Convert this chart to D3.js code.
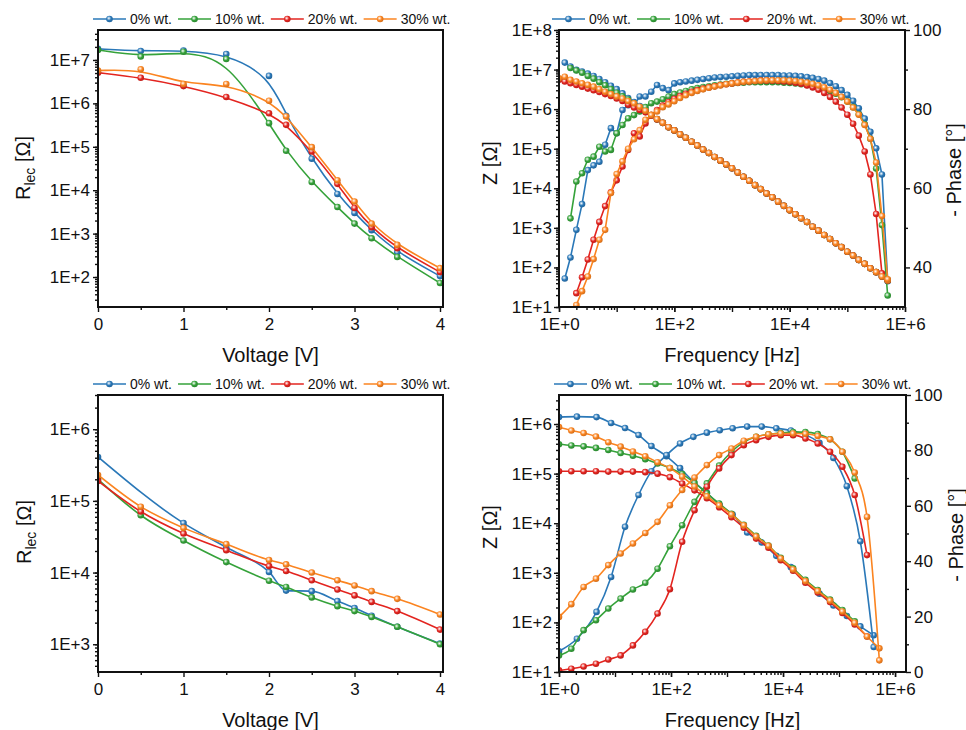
<!DOCTYPE html>
<html>
<head>
<meta charset="UTF-8">
<title>Rlec and Bode plots</title>
<script src="https://cdn.jsdelivr.net/npm/d3@7"></script>
<style>
  body { margin: 0; background: #fff; }
  svg text { font-family: "Liberation Sans", Arial, sans-serif; fill: #111; }
</style>
</head>
<body>
<script>
var names = ["0% wt.", "10% wt.", "20% wt.", "30% wt."];
var colors = ["#2a78b8", "#35a23a", "#e3241f", "#fb8420"];

// left panels: R_lec vs voltage
var voltage = [0, 0.5, 1, 1.5, 2, 2.2, 2.5, 2.8, 3, 3.2, 3.5, 4];
var rlecTop0 = [1.8e7, 1.6e7, 1.65e7, 1.37e7, 4.3e6, 5.2e5, 5.3e4, 8.2e3, 3.0e3, 1.2e3, 3.7e2, 1.05e2];
var rlecTop10 = [1.7e7, 1.2e7, 1.55e7, 1.05e7, 3.5e5, 8.1e4, 1.55e4, 4.1e3, 1.7e3, 7.8e2, 2.9e2, 73];
var rlecTop20 = [5.1e6, 3.9e6, 2.5e6, 1.4e6, 5.9e5, 3.2e5, 7.8e4, 1.4e4, 3.9e3, 1.4e3, 4.6e2, 1.3e2];
var rlecTop30 = [5.7e6, 6.1e6, 2.8e6, 2.8e6, 1.15e6, 5.0e5, 9.8e4, 1.7e4, 5.5e3, 1.7e3, 5.5e2, 1.6e2];

var rlecBot0 = [4.1e5, null, 4.9e4, 2.25e4, 1.02e4, 5.6e3, 5.5e3, 4.0e3, 3.2e3, 2.5e3, 1.75e3, 1.02e3];
var rlecBot10 = [2.0e5, 6.3e4, 2.8e4, 1.4e4, 7.7e3, 6.3e3, 4.5e3, 3.4e3, 2.9e3, 2.4e3, 1.75e3, 1.0e3];
var rlecBot20 = [1.9e5, 7.1e4, 3.5e4, 2.05e4, 1.23e4, 1.05e4, 7.8e3, 5.8e3, 4.8e3, 3.9e3, 2.9e3, 1.6e3];
var rlecBot30 = [2.3e5, 8.3e4, 4.2e4, 2.5e4, 1.5e4, 1.3e4, 1.0e4, 7.8e3, 6.6e3, 5.5e3, 4.3e3, 2.6e3];

// top right: Bode plot, 10 points per decade
var freqTop = [1, 1.26, 1.58, 2.0, 2.51, 3.16, 3.98, 5.01, 6.31, 7.94,
  10, 12.6, 15.8, 20.0, 25.1, 31.6, 39.8, 50.1, 63.1, 79.4,
  100, 126, 158, 200, 251, 316, 398, 501, 631, 794,
  1000, 1259, 1585, 1995, 2512, 3162, 3981, 5012, 6310, 7943,
  1e4, 1.26e4, 1.58e4, 2.0e4, 2.51e4, 3.16e4, 3.98e4, 5.01e4, 6.31e4, 7.94e4,
  1e5, 1.26e5, 1.58e5, 2.0e5, 2.51e5, 3.16e5, 3.98e5, 5.01e5];
// low-frequency part of |Z| (first 18 frequencies)
var zTop0 = [null, 1.5e7, 1.2e7, 9.8e6, 8.9e6, 7.9e6, 6.9e6, 5.8e6, 4.8e6, 3.9e6, 3.2e6, 2.5e6, 1.9e6, 1.5e6, 1.2e6, 9.3e5, 7.1e5, 5.6e5];
var zTop10 = [null, null, 1.1e7, 9.5e6, 8.3e6, 6.9e6, 5.9e6, 4.8e6, 4.0e6, 3.2e6, 2.6e6, 2.1e6, 1.75e6, 1.4e6, 1.1e6, 8.9e5, 7.0e5, 5.5e5];
var zTop20 = [5.5e6, 5.0e6, 4.5e6, 4.1e6, 3.7e6, 3.3e6, 3.0e6, 2.7e6, 2.4e6, 2.15e6, 1.85e6, 1.6e6, 1.3e6, 1.1e6, 9.5e5, 8.3e5, 6.8e5, 5.5e5];
var zTop30 = [6.0e6, 6.6e6, 5.5e6, 5.0e6, 4.5e6, 4.1e6, 3.7e6, 3.2e6, 2.75e6, 2.4e6, 2.1e6, 1.85e6, 1.6e6, 1.4e6, 1.15e6, 9.1e5, 7.2e5, 5.6e5];
// above ~60 Hz the four |Z| curves lie on one capacitive line
var zTopTail = [4.5e5, 3.5e5, 2.9e5, 2.3e5, 1.9e5, 1.5e5, 1.2e5, 9.5e4, 7.8e4, 6.2e4,
  5.0e4, 4.0e4, 3.2e4, 2.5e4, 1.95e4, 1.55e4, 1.2e4, 9.5e3, 7.4e3, 5.9e3,
  4.6e3, 3.6e3, 2.8e3, 2.2e3, 1.75e3, 1.4e3, 1.07e3, 850, 660, 525,
  410, 325, 250, 200, 155, 123, 95, 76, 59, 47];
var phTop0 = [null, 37.2, 42.5, 49.5, 56, 64.6, 65.8, 66.7, 71, 75.2, 73.9, 79.8, 81, 81, 83.2, 83.2, 84.4, 86.1, 85.3, 84.8,
  86.5, 86.8, 87.0, 87.2, 87.4, 87.6, 87.8, 88.0, 88.1, 88.2, 88.3, 88.4, 88.5, 88.6, 88.6, 88.6, 88.6, 88.6, 88.6, 88.5,
  88.5, 88.4, 88.3, 88.1, 87.9, 87.6, 87.2, 86.6, 85.8, 84.8, 83.6, 82.1, 80.2, 77.6, 74.3, 70.1, 63.5, 36.5];
var phTop10 = [null, null, 52.4, 61.7, 63.8, 67.2, 68.0, 70.5, 69.3, 69.7, 73.9, 76.0, 77.7, 78.5, 79.4, 80.5, 81.5, 81.9, 82.5, 83.2,
  83.8, 84.2, 84.6, 85.0, 85.3, 85.6, 85.8, 86.0, 86.2, 86.4, 86.5, 86.6, 86.7, 86.8, 86.8, 86.8, 86.8, 86.8, 86.8, 86.7,
  86.6, 86.5, 86.3, 86.1, 85.8, 85.5, 85.1, 84.6, 83.9, 83.0, 81.9, 80.5, 78.7, 76.2, 72.5, 65.0, 50.7, 32.9];
var phTop20 = [null, null, null, 33.5, 37.5, 42, 47, 51.5, 55.5, 59, 62, 65.5, 69.7, 73.9, 73.1, 76.4, 78.5, 79.8, 80.9, 81.8,
  82.6, 83.3, 83.9, 84.4, 84.8, 85.2, 85.5, 85.8, 86.1, 86.3, 86.5, 86.7, 86.9, 87.0, 87.1, 87.2, 87.2, 87.2, 87.1, 87.0,
  86.9, 86.7, 86.4, 86.0, 85.5, 84.9, 84.1, 83.1, 81.9, 80.4, 78.6, 76.3, 73.3, 69.3, 63.5, 53.5, 38.5, null];
var phTop30 = [null, null, 24, 30.5, 34, 37.7, 42.1, 47, 49.5, 58.8, 63.6, 66.8, 70, 72.4, 74.7, 77.3, 78.5, 79.4, 80.5, 81.2,
  82, 82.8, 83.5, 84.1, 84.6, 85.0, 85.4, 85.7, 86.0, 86.3, 86.5, 86.7, 86.9, 87.0, 87.1, 87.2, 87.3, 87.3, 87.3, 87.3,
  87.2, 87.1, 86.9, 86.7, 86.4, 86.0, 85.5, 84.9, 84.1, 83.1, 81.9, 80.4, 78.6, 76.0, 72.5, 66.5, 53, 37];

// bottom right: Bode plot, blue series on its own frequency list
var freqBot0 = [1, 2.09, 4.68, 8.51, 15.1, 26.3, 44.7, 83.2, 145, 251, 437, 741, 1259, 2291, 4169, 7586,
  13804, 25119, 44668, 79433, 138038, 239883, 416869];
var freqBot = [1, 1.66, 2.75, 4.57, 7.59, 12.6, 20.9, 34.7, 57.5, 95.5, 158, 263, 437, 724, 1202, 1995,
  3311, 5495, 9120, 15136, 25119, 41687, 69183, 114815, 190546, 316228, 524807];
var zBot0 = [1.38e6, 1.41e6, 1.38e6, 1.05e6, 8.3e5, 6.0e5, 3.6e5, 2.24e5, 1.29e5, 6.9e4, 4.1e4, 2.3e4, 1.5e4, 6.5e3, 4.1e3, 2.2e3,
  1.3e3, 660, 380, 220, 135, 83, 55];
var phBot0 = [7.5, 12.0, 21.7, 34.3, 52.4, 63.9, 72.5, 78.3, 82.5, 84.9, 86.4, 87.3, 88.0, 88.6, 88.6, 88.0,
  87.2, 85.7, 82.7, 77.3, 67.1, 47.2, 9.0];
var zBot10 = [3.9e5, 3.7e5, 3.55e5, 3.3e5, 3.0e5, 2.6e5, 2.3e5, 1.95e5, 1.6e5, 1.3e5, 9.8e4, 6.5e4, 4.0e4, 2.5e4, 1.55e4, 9.3e3,
  5.6e3, 3.55e3, 2.0e3, 1.23e3, 720, 450, 290, 178, 105];
var phBot10 = [6.0, 8.4, 15.1, 18.7, 22.9, 26.5, 29.8, 32.2, 37.3, 45.4, 53.0, 61.4, 68.1, 74.5, 79.5, 83.0,
  84.9, 85.8, 86.3, 86.6, 86.6, 85.9, 84.0, 79.5, 69.9];
var zBot20 = [1.12e5, 1.12e5, 1.12e5, 1.12e5, 1.1e5, 1.1e5, 1.1e5, 1.07e5, 1.0e5, 8.5e4, 6.3e4, 4.6e4, 3.2e4, 2.1e4, 1.32e4, 8.1e3,
  4.9e3, 3.2e3, 1.8e3, 1.1e3, 630, 400, 257, 155, 91, 52];
var phBot20 = [0.6, 1.2, 2.0, 3.0, 4.5, 6.0, 9.6, 14.5, 21.1, 29.9, 47.0, 58.4, 66.9, 73.5, 78.3, 81.9,
  83.7, 84.9, 85.5, 85.5, 84.3, 82.5, 79.5, 74.1, 63.9, 42.2];
var zBot30 = [8.7e5, 7.4e5, 6.6e5, 5.6e5, 4.3e5, 3.5e5, 2.8e5, 2.24e5, 1.7e5, 1.29e5, 8.7e4, 5.5e4, 3.5e4, 2.3e4, 1.5e4, 9.1e3,
  5.4e3, 3.5e3, 1.95e3, 1.17e3, 680, 430, 275, 166, 98, 52, 30];
var phBot30 = [19.9, 24.5, 30.7, 33.7, 38.6, 42.8, 46.4, 50.2, 54.2, 60.2, 65.7, 70.2, 74.7, 78.3, 80.7, 83.5,
  84.9, 85.8, 86.1, 86.1, 86.0, 85.2, 84.0, 79.5, 72.0, 56.0, 4.2];

// tick values
var voltTicks = [0, 1, 2, 3, 4];
var rlecTopTicks = [1e2, 1e3, 1e4, 1e5, 1e6, 1e7];
var rlecBotTicks = [1e3, 1e4, 1e5, 1e6];
var freqTicks = [1, 1e2, 1e4, 1e6];
var zTopTicks = [1e1, 1e2, 1e3, 1e4, 1e5, 1e6, 1e7, 1e8];
var zBotTicks = [1e1, 1e2, 1e3, 1e4, 1e5, 1e6];
var phTopTicks = [40, 60, 80, 100];
var phBotTicks = [0, 20, 40, 60, 80, 100];

var svg = d3.select("body").append("svg").attr("width", 966).attr("height", 730);
var defs = svg.append("defs");

colors.forEach(function(c, i) {
    var gr = defs.append("radialGradient").attr("id", "ball" + i)
            .attr("cx", "40%").attr("cy", "38%").attr("r", "62%");
    gr.append("stop").attr("offset", "0%").attr("stop-color", "#fff");
    gr.append("stop").attr("offset", "55%").attr("stop-color", c);
    gr.append("stop").attr("offset", "100%").attr("stop-color", d3.color(c).darker(0.5));
});

var fmtE = function(d) { return "1E+" + Math.round(Math.log10(d)); };

function logMinors(lo, hi) {
    var out = [];
    for (var e = Math.floor(Math.log10(lo)); e <= Math.ceil(Math.log10(hi)); e++) {
        for (var m = 1; m < 10; m++) {
            var v = m * Math.pow(10, e);
            if (v >= lo && v <= hi) out.push(v);
        }
    }
    return out;
}

function axis(gen, x, y) {
    var a = svg.append("g").attr("transform", "translate(" + x + "," + y + ")").call(gen);
    a.select(".domain").remove();
    a.selectAll("line").attr("stroke", "#111").attr("stroke-width", 1.4);
    a.selectAll("text").attr("font-size", 17);
    return a;
}

function frame(b, id) {
    defs.append("clipPath").attr("id", id).append("rect")
            .attr("x", b.l).attr("y", b.t).attr("width", b.r - b.l).attr("height", b.b - b.t);
}

function border(b) {
    svg.append("rect").attr("x", b.l).attr("y", b.t).attr("width", b.r - b.l).attr("height", b.b - b.t)
            .attr("fill", "none").attr("stroke", "#111").attr("stroke-width", 2);
}

function series(clip, xs, ys, x, y, curve, ci) {
    var pts = xs.map(function(v, i) { return [v, ys[i]]; })
            .filter(function(d) { return d[1] != null; });
    svg.append("path").datum(pts).attr("clip-path", "url(#" + clip + ")")
            .attr("fill", "none").attr("stroke", colors[ci]).attr("stroke-width", 1.6)
            .attr("d", d3.line().curve(curve).x(function(d) { return x(d[0]); }).y(function(d) { return y(d[1]); }));
    svg.append("g").attr("clip-path", "url(#" + clip + ")").selectAll("circle").data(pts).enter()
            .append("circle")
            .attr("cx", function(d) { return x(d[0]); })
            .attr("cy", function(d) { return y(d[1]); })
            .attr("r", 3.3)
            .attr("fill", "url(#ball" + ci + ")");
}

function legend(x0, y) {
    var x = x0;
    names.forEach(function(n, i) {
        svg.append("line").attr("x1", x).attr("x2", x + 33).attr("y1", y).attr("y2", y)
                .attr("stroke", colors[i]).attr("stroke-width", 1.6);
        svg.append("circle").attr("cx", x + 16.5).attr("cy", y).attr("r", 3.3).attr("fill", "url(#ball" + i + ")");
        var t = svg.append("text").attr("x", x + 37).attr("y", y + 5).attr("font-size", 14).text(n);
        x += 37 + t.node().getComputedTextLength() + 6;
    });
}

function rotLabel(x, y, size) {
    return svg.append("text").attr("transform", "translate(" + x + "," + y + ") rotate(-90)")
            .attr("text-anchor", "middle").attr("font-size", size);
}

function rlecLabel(x, y) {
    var t = rotLabel(x, y, 20);
    t.append("tspan").text("R");
    t.append("tspan").attr("font-size", 14).attr("dy", 5).text("lec");
    t.append("tspan").attr("dy", -5).text(" [\u03a9]");
}

// ---------- left panels ----------
function voltagePanel(b, yDomain, yTicks, data, curve, id, legY, titleY) {
    frame(b, id);
    var x = d3.scaleLinear().domain([0, 4.035]).range([b.l, b.r]);
    var y = d3.scaleLog().domain(yDomain).range([b.b, b.t]);
    axis(d3.axisBottom(x).tickValues([0.5, 1.5, 2.5, 3.5]).tickSize(3).tickFormat(""), 0, b.b);
    axis(d3.axisBottom(x).tickValues(voltTicks).tickSize(5).tickPadding(6).tickFormat(d3.format("d")), 0, b.b);
    axis(d3.axisLeft(y).tickValues(logMinors(yDomain[0], yDomain[1])).tickSize(3).tickFormat(""), b.l, 0);
    axis(d3.axisLeft(y).tickValues(yTicks).tickSize(5).tickPadding(3).tickFormat(fmtE), b.l, 0);
    data.forEach(function(ys, i) { series(id, voltage, ys, x, y, curve, i); });
    border(b);
    legend(93, legY);
    svg.append("text").attr("x", (b.l + b.r) / 2).attr("y", titleY).attr("text-anchor", "middle")
            .attr("font-size", 20).text("Voltage [V]");
}

var boxTL = {l: 98, r: 443, t: 30, b: 307};
var boxBL = {l: 98, r: 443, t: 395, b: 672};
voltagePanel(boxTL, [20.4, 4.9e7], rlecTopTicks, [rlecTop0, rlecTop10, rlecTop20, rlecTop30],
        d3.curveBasis, "clipTL", 19, 362);
rlecLabel(30, 168);
voltagePanel(boxBL, [410, 3.0e6], rlecBotTicks, [rlecBot0, rlecBot10, rlecBot20, rlecBot30],
        d3.curveMonotoneX, "clipBL", 384, 727);
rlecLabel(31, 532);

// ---------- right panels ----------
function bodePanel(b, xDomain, zDomain, zTicks, phDomain, phTicks, phMinor, sets, curve, id, legX, legY, titleY) {
    frame(b, id);
    var x = d3.scaleLog().domain(xDomain).range([b.l, b.r]);
    var y = d3.scaleLog().domain(zDomain).range([b.b, b.t]);
    var y2 = d3.scaleLinear().domain(phDomain).range([b.b, b.t]);
    var xMin = logMinors(xDomain[0], xDomain[1]);
    axis(d3.axisBottom(x).tickValues(xMin.filter(function(v) { return Math.abs(Math.log10(v) % 1) > 1e-6; }))
            .tickSize(3).tickFormat(""), 0, b.b);
    axis(d3.axisBottom(x).tickValues(xMin.filter(function(v) { return Math.abs(Math.log10(v) % 1) < 1e-6; }))
            .tickSize(5).tickFormat(""), 0, b.b);
    axis(d3.axisBottom(x).tickValues(freqTicks).tickSize(5).tickPadding(6).tickFormat(fmtE), 0, b.b);
    axis(d3.axisLeft(y).tickValues(logMinors(zDomain[0], zDomain[1])).tickSize(3).tickFormat(""), b.l, 0);
    axis(d3.axisLeft(y).tickValues(zTicks).tickSize(5).tickPadding(2).tickFormat(fmtE), b.l, 0);
    axis(d3.axisRight(y2).tickValues(phMinor).tickSize(3).tickFormat(""), b.r, 0);
    axis(d3.axisRight(y2).tickValues(phTicks).tickSize(5).tickPadding(3).tickFormat(d3.format("d")), b.r, 0);
    sets.forEach(function(s, i) {
        series(id, s.f, s.z, x, y, curve, i);
        series(id, s.f, s.p, x, y2, curve, i);
    });
    border(b);
    legend(legX, legY);
    svg.append("text").attr("x", (b.l + b.r) / 2).attr("y", titleY).attr("text-anchor", "middle")
            .attr("font-size", 20).text("Frequency [Hz]");
}

var boxTR = {l: 559, r: 905, t: 30, b: 307};
var boxBR = {l: 559, r: 906, t: 395, b: 672};

bodePanel(boxTR, [1, 1e6], [10, 1e8], zTopTicks, [30, 100], phTopTicks, [50, 70, 90], [
    {f: freqTop, z: zTop0.concat(zTopTail), p: phTop0},
    {f: freqTop, z: zTop10.concat(zTopTail), p: phTop10},
    {f: freqTop, z: zTop20.concat(zTopTail), p: phTop20},
    {f: freqTop, z: zTop30.concat(zTopTail), p: phTop30}
], d3.curveLinear, "clipTR", 552, 19, 362);

bodePanel(boxBR, [1, 1.57e6], [10, 3.85e6], zBotTicks, [0, 100], phBotTicks, [10, 30, 50, 70, 90], [
    {f: freqBot0, z: zBot0, p: phBot0},
    {f: freqBot, z: zBot10, p: phBot10},
    {f: freqBot, z: zBot20, p: phBot20},
    {f: freqBot, z: zBot30, p: phBot30}
], d3.curveMonotoneX, "clipBR", 554, 384, 727);

rotLabel(497, 163, 20).text("Z [\u03a9]");
rotLabel(497, 527, 20).text("Z [\u03a9]");
rotLabel(961, 170, 20).text("- Phase [\u00b0]");
rotLabel(963, 535, 20).text("- Phase [\u00b0]");
</script>
</body>
</html>
